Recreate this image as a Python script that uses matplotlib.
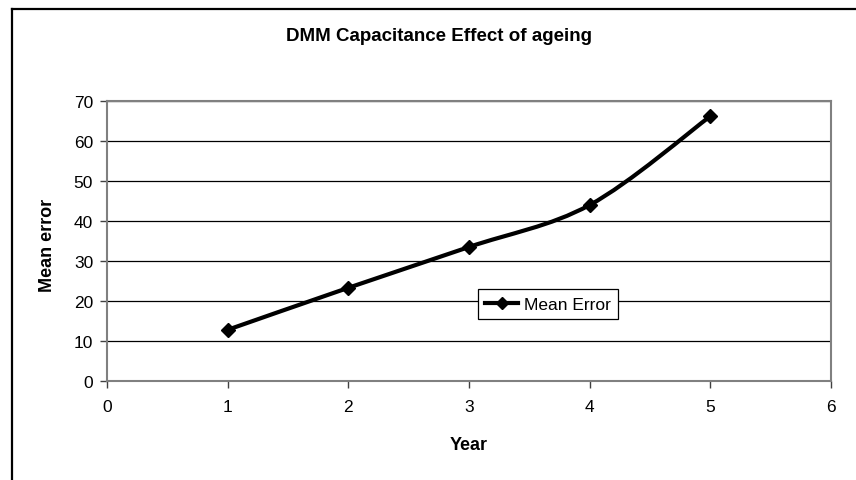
import matplotlib
matplotlib.use("Agg")
import matplotlib.pyplot as plt
from matplotlib.path import Path
from matplotlib.patches import PathPatch
from matplotlib.lines import Line2D

years = [1, 2, 3, 4, 5]
mean_error = [12.8, 23.3, 33.5, 44.0, 66.2]
x_ticks = [0, 1, 2, 3, 4, 5, 6]
y_ticks = [0, 10, 20, 30, 40, 50, 60, 70]

plt.rcParams['font.family'] = ['Liberation Sans', 'DejaVu Sans']

fig = plt.figure(figsize=(8.56, 4.81), dpi=100)
ax = fig.add_axes([107 / 856, 1 - 382 / 481, 724 / 856, 280 / 481])

# outer chart frame (cropped, only left and top edges visible)
fig.add_artist(Line2D([12 / 856, 12 / 856], [0, 1 - 10 / 481], color='black',
                      lw=1.6, transform=fig.transFigure))
fig.add_artist(Line2D([12 / 856, 1], [1 - 10 / 481, 1 - 10 / 481], color='black',
                      lw=1.6, transform=fig.transFigure))

# smoothed line like Excel's (Bezier segments through the points)
pts = list(zip(years, mean_error))
verts = [pts[0]]
codes = [Path.MOVETO]
for i in range(len(pts) - 1):
    p0 = pts[i - 1] if i > 0 else pts[i]
    p1 = pts[i]
    p2 = pts[i + 1]
    p3 = pts[i + 2] if i + 2 < len(pts) else pts[i + 1]
    c1 = (p1[0] + (p2[0] - p0[0]) / 6, p1[1] + (p2[1] - p0[1]) / 6)
    c2 = (p2[0] - (p3[0] - p1[0]) / 6, p2[1] - (p3[1] - p1[1]) / 6)
    verts += [c1, c2, p2]
    codes += [Path.CURVE4] * 3
ax.add_patch(PathPatch(Path(verts, codes), facecolor='none', edgecolor='black',
                       lw=3, capstyle='round', joinstyle='round', zorder=3))
ax.plot(years, mean_error, linestyle='none', marker='D', ms=7, color='black', zorder=4)

ax.set_xlim(0, 6)
ax.set_ylim(0, 70)
ax.set_xticks(x_ticks)
ax.set_yticks(y_ticks)
ax.grid(axis='y', color='black', lw=0.9)
ax.set_axisbelow(True)
for s in ax.spines.values():
    s.set_color('#808080')
    s.set_linewidth(1.5)
ax.tick_params(direction='out', length=5, width=1, color='#404040',
               labelsize=12.5, pad=5)
ax.tick_params(axis='x', pad=8)

handle = Line2D([], [], color='black', lw=3, marker='D', ms=6)
leg = ax.legend([handle], ['Mean Error'], loc='center', bbox_to_anchor=(0.609, 0.275),
                fancybox=False, framealpha=1, edgecolor='black', fontsize=12.5,
                handlelength=1.9, handletextpad=0.3, borderpad=0.45,
                borderaxespad=0)
leg.get_frame().set_linewidth(0.9)

fig.text(0.513, 1 - 37 / 481, 'DMM Capacitance Effect of ageing', ha='center',
         va='center', fontsize=13.5, fontweight='bold')
fig.text(48 / 856, 1 - 245 / 481, 'Mean error', rotation=90, ha='center',
         va='center', fontsize=13, fontweight='bold')
fig.text(469 / 856, 1 - 446 / 481, 'Year', ha='center', va='center',
         fontsize=13, fontweight='bold')

fig.savefig('out.png', dpi=100)
